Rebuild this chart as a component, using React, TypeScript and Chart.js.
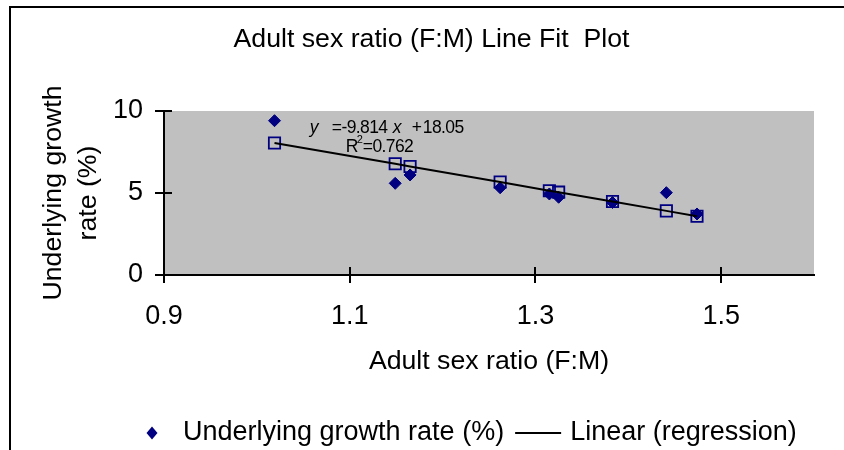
import { useEffect, useRef } from 'react';
import { Chart, registerables } from 'chart.js';

Chart.register(...registerables);

// ---- data ----
const chartTitle = 'Adult sex ratio (F:M) Line Fit  Plot';
const xAxisTitle = 'Adult sex ratio (F:M)';
const yAxisTitle = ['Underlying growth', 'rate (%)'];
const seriesLabel = 'Underlying growth rate (%)';
const predictedLabel = 'Predicted Underlying growth rate (%)';
const trendLabel = 'Linear (regression)';

const sexRatio = [1.019, 1.149, 1.165, 1.262, 1.315, 1.325, 1.383, 1.441, 1.474];
const growthRate = [9.41, 5.59, 6.1, 5.32, 4.94, 4.74, 4.42, 5.02, 3.72];
const predictedGrowth = [8.05, 6.78, 6.62, 5.67, 5.14, 5.05, 4.48, 3.91, 3.58];

const xTickValues = [0.9, 1.1, 1.3, 1.5];
const xTickLabels = ['0.9', '1.1', '1.3', '1.5'];
const yTickValues = [0, 5, 10];

const eqSlope = '-9.814';
const eqIntercept = '18.05';
const eqR2 = '0.762';

// ---- styles ----
const FONT = "'Liberation Sans', Arial, Helvetica, sans-serif";
const NAVY = '#000080';
const PLOT_BG = '#C0C0C0';

const plotBg = {
  id: 'plotBg',
  beforeDraw(chart: any) {
    const { ctx, chartArea: a } = chart;
    ctx.save();
    ctx.fillStyle = '#ffffff';
    ctx.fillRect(0, 0, chart.width, chart.height);
    ctx.fillStyle = PLOT_BG;
    ctx.fillRect(a.left, a.top, a.right - a.left, a.bottom - a.top);
    ctx.restore();
  },
};

const frame = {
  id: 'frame',
  afterDraw(chart: any) {
    const { ctx } = chart;
    ctx.save();
    ctx.fillStyle = '#000';
    ctx.fillRect(9, 6, 2, chart.height - 6);
    ctx.fillRect(9, 6, chart.width - 9, 2);
    ctx.restore();
  },
};

const crossTicks = {
  id: 'crossTicks',
  afterDraw(chart: any) {
    const { ctx, chartArea: a, scales } = chart;
    ctx.save();
    ctx.strokeStyle = '#000';
    ctx.lineWidth = 2;
    ctx.beginPath();
    xTickValues.forEach((v) => {
      const px = Math.round(scales.x.getPixelForValue(v));
      ctx.moveTo(px, a.bottom);
      ctx.lineTo(px, a.bottom - 8);
    });
    yTickValues.forEach((v) => {
      const py = Math.round(scales.y.getPixelForValue(v));
      ctx.moveTo(a.left, py);
      ctx.lineTo(a.left + 8, py);
    });
    ctx.stroke();
    ctx.restore();
  },
};

const equation = {
  id: 'equation',
  afterDatasetsDraw(chart: any) {
    const { ctx, scales } = chart;
    const x0 = scales.x.getPixelForValue(1.057);
    const y0 = scales.y.getPixelForValue(8.66);
    ctx.save();
    ctx.fillStyle = '#000';
    ctx.textBaseline = 'alphabetic';
    ctx.textAlign = 'left';
    try { (ctx as any).letterSpacing = '-0.6px'; } catch (e) {}
    ctx.font = `italic 17.5px ${FONT}`;
    ctx.fillText('y', x0, y0);
    ctx.fillText('x', x0 + 83, y0);
    ctx.font = `17.5px ${FONT}`;
    ctx.fillText('=' + eqSlope, x0 + 22, y0);
    ctx.fillText('+', x0 + 102, y0);
    ctx.fillText(eqIntercept, x0 + 113, y0);
    const y1 = y0 + 19;
    ctx.fillText('R', x0 + 36, y1);
    ctx.fillText('=' + eqR2, x0 + 53, y1);
    ctx.font = `11px ${FONT}`;
    ctx.fillText('2', x0 + 47, y1 - 9);
    ctx.restore();
  },
};

const manualLegend = {
  id: 'manualLegend',
  afterDraw(chart: any) {
    const { ctx } = chart;
    const y = 433;
    const dx = 152;
    ctx.save();
    ctx.fillStyle = NAVY;
    ctx.beginPath();
    ctx.moveTo(dx - 5.5, y);
    ctx.lineTo(dx, y - 6.5);
    ctx.lineTo(dx + 5.5, y);
    ctx.lineTo(dx, y + 6.5);
    ctx.closePath();
    ctx.fill();
    ctx.font = `27px ${FONT}`;
    ctx.textBaseline = 'middle';
    ctx.textAlign = 'left';
    ctx.fillStyle = '#000';
    const t1x = 183;
    ctx.fillText(seriesLabel, t1x, y);
    const w1 = ctx.measureText(seriesLabel).width;
    const lx = t1x + w1 + 11;
    ctx.strokeStyle = '#000';
    ctx.lineWidth = 2;
    ctx.beginPath();
    ctx.moveTo(lx, y);
    ctx.lineTo(lx + 46, y);
    ctx.stroke();
    ctx.fillText(trendLabel, lx + 55, y);
    ctx.restore();
  },
};

export default function App() {
  const canvasRef = useRef<HTMLCanvasElement | null>(null);

  useEffect(() => {
    if (!canvasRef.current) return;
    document.body.style.margin = '0';
    document.body.style.overflow = 'hidden';
    document.documentElement.style.overflow = 'hidden';
    Chart.defaults.font.family = FONT;
    Chart.defaults.color = '#000';

    const chart = new Chart(canvasRef.current, {
      type: 'scatter',
      data: {
        datasets: [
          {
            label: trendLabel,
            data: sexRatio.map((x, i) => ({ x, y: predictedGrowth[i] })),
            showLine: true,
            borderColor: '#000',
            borderWidth: 2,
            pointRadius: 0,
            fill: false,
            order: 0,
          },
          {
            label: predictedLabel,
            data: sexRatio.map((x, i) => ({ x, y: predictedGrowth[i] })),
            pointStyle: 'rect',
            pointRadius: 8,
            borderColor: NAVY,
            borderWidth: 1.8,
            backgroundColor: 'rgba(0,0,0,0)',
            showLine: false,
            order: 1,
          },
          {
            label: seriesLabel,
            data: sexRatio.map((x, i) => ({ x, y: growthRate[i] })),
            pointStyle: 'rectRot',
            pointRadius: 6,
            borderColor: NAVY,
            borderWidth: 1,
            backgroundColor: NAVY,
            showLine: false,
            order: 2,
          },
        ],
      },
      options: {
        animation: false,
        responsive: false,
        devicePixelRatio: 1,
        events: [],
        layout: { padding: { left: 49, right: 30, top: 0, bottom: 0 } },
        plugins: {
          legend: { display: false },
          tooltip: { enabled: false },
          title: {
            display: true,
            text: chartTitle,
            color: '#000',
            font: { size: 26.7, weight: 'normal', family: FONT, lineHeight: 1.2 },
            padding: { top: 24, bottom: 54.96 },
          },
        },
        scales: {
          x: {
            type: 'linear',
            min: 0.9,
            max: 1.6,
            afterBuildTicks: (s: any) => {
              s.ticks = xTickValues.map((v) => ({ value: v }));
            },
            afterFit: (s: any) => {
              s.height = 175;
            },
            ticks: {
              callback: (v: any, i: number) => xTickLabels[i] ?? String(v),
              font: { size: 27, family: FONT },
              color: '#000',
              padding: 17.8,
              maxRotation: 0,
              autoSkip: false,
            },
            grid: {
              drawOnChartArea: false,
              drawTicks: true,
              tickLength: 8,
              color: '#000',
              lineWidth: 2,
            },
            border: { display: true, color: '#000', width: 2 },
            title: {
              display: true,
              text: xAxisTitle,
              color: '#000',
              font: { size: 26.7, family: FONT, lineHeight: 1.2 },
              padding: { top: 0, bottom: 72 },
            },
          },
          y: {
            type: 'linear',
            min: 0,
            max: 10,
            afterBuildTicks: (s: any) => {
              s.ticks = yTickValues.map((v) => ({ value: v }));
            },
            afterFit: (s: any) => {
              s.width = 115;
            },
            ticks: {
              font: { size: 27, family: FONT },
              color: '#000',
              padding: 12,
            },
            grid: {
              drawOnChartArea: false,
              drawTicks: true,
              tickLength: 9,
              color: '#000',
              lineWidth: 2,
            },
            border: { display: true, color: '#000', width: 2 },
            title: {
              display: true,
              text: yAxisTitle,
              color: '#000',
              font: { size: 26.7, family: FONT, lineHeight: 1.31 },
              padding: { top: -12.5, bottom: 0 },
            },
          },
        },
      },
      plugins: [plotBg, crossTicks, equation, manualLegend, frame],
    } as any);

    return () => chart.destroy();
  }, []);

  return (
    <div style={{ position: 'absolute', left: 0, top: 0, width: 844, height: 450, background: '#fff' }}>
      <canvas ref={canvasRef} width={844} height={450} style={{ display: 'block', width: 844, height: 450 }} />
    </div>
  );
}
